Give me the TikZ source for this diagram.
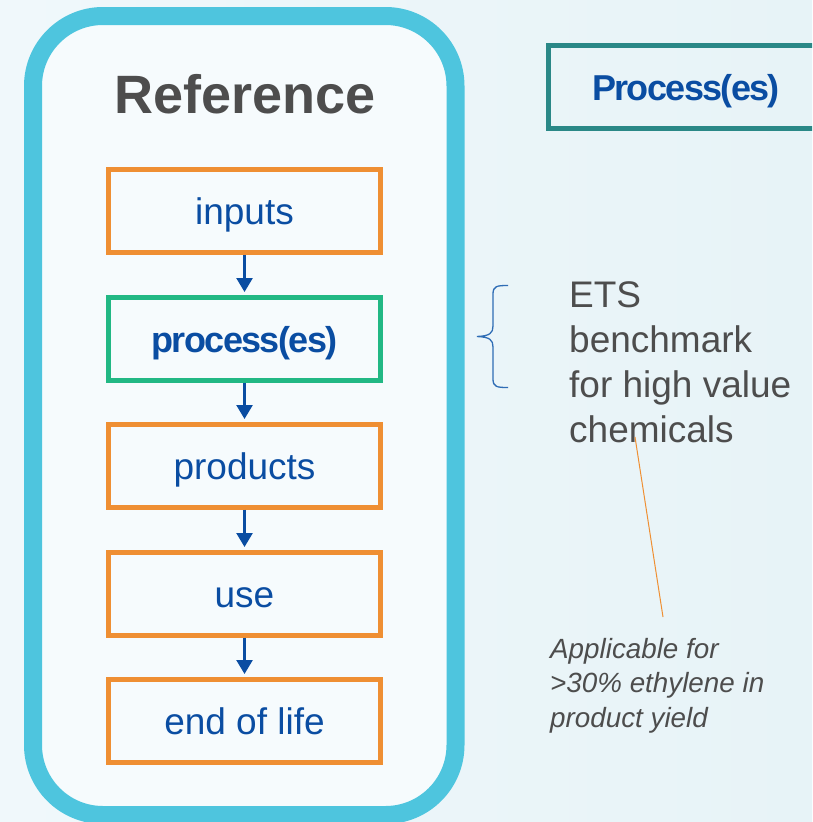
\documentclass[tikz,border=0pt]{standalone}
\usepackage{fontspec}
\setmainfont{Liberation Sans}
\usetikzlibrary{arrows.meta}
\definecolor{bgl}{HTML}{F0F8FB}
\definecolor{bgr}{HTML}{E7F3F7}
\definecolor{innerc}{HTML}{F6FBFD}
\definecolor{framec}{HTML}{4EC5DE}
\definecolor{orangec}{HTML}{EF8F33}
\definecolor{greenc}{HTML}{22B884}
\definecolor{tealc}{HTML}{2A8887}
\definecolor{bluec}{HTML}{0A4DA2}
\definecolor{grayc}{HTML}{4D4D4D}
\definecolor{bracec}{HTML}{2F6DB5}
\begin{document}
\begin{tikzpicture}[x=1pt,y=-1pt,
  stepbox/.style={draw=orangec, line width=5pt, minimum width=272pt, minimum height=83pt,
    inner sep=0pt, text=bluec, font=\fontsize{37}{40}\selectfont, text height=27pt, text depth=0pt},
  flow/.style={draw=bluec, line width=2.5pt, shorten >=2.5pt, -{Triangle[length=14pt,width=16pt]}},
  boldlbl/.style={font=\fontsize{36}{40}\selectfont\bfseries\addfontfeatures{LetterSpace=-4.5}}]
\useasboundingbox (0,0) rectangle (812,822);
\clip (0,0) rectangle (812,822);
\shade[left color=bgl, right color=bgr] (0,0) rectangle (812,822);
\draw[line width=18pt, draw=framec, fill=innerc, rounded corners=70pt] (33,16) rectangle (455.5,815);

\node[anchor=base, text=grayc, font=\fontsize{54}{60}\selectfont\bfseries] (ref) at (245.5,113) {Reference};

\node[stepbox] (inputs) at (244.5,211) {inputs};
\node[stepbox, draw=greenc, boldlbl, text height=27pt, text depth=0pt] (proc) at (244.5,338.5) {process(es)};
\node[stepbox] (products) at (244.5,465.5) {products};
\node[stepbox] (use) at (244.5,593.5) {use};
\node[stepbox] (eol) at (244.5,720.5) {end of life};

\draw[flow] (inputs.south) -- (proc.north);
\draw[flow] (proc.south) -- (products.north);
\draw[flow] (products.south) -- (use.north);
\draw[flow] (use.south) -- (eol.north);

\node[draw=tealc, line width=5pt, minimum width=275pt, minimum height=83pt, inner sep=0pt,
  text=bluec, boldlbl, text height=27pt, text depth=0pt] (procR) at (686,87) {Process(es)};

% brace
\draw[bracec, line width=1.3pt] (508,285.5) .. controls (497,285.5) and (493,286) .. (493,294)
  -- (493,326) .. controls (493,333) and (490,336) .. (477,336.5)
  .. controls (490,337) and (493,340) .. (493,347) -- (493,379)
  .. controls (493,387) and (497,387.5) .. (508,387.5);

\node[anchor=north west, inner sep=0pt, align=left, text=grayc, font=\fontsize{37}{45}\selectfont] (ets) at (569,281.5)
  {ETS\\benchmark\\for high value\\chemicals};

\node[anchor=north west, inner sep=0pt, align=left, text=grayc, font=\fontsize{27.8}{34.5}\selectfont\itshape] (appl) at (550,638)
  {Applicable for\\>30\% ethylene in\\product yield};

\coordinate (la) at (635,437);
\coordinate (lb) at (663,617);
\draw[orangec, line width=1pt] (la) -- (lb);
\end{tikzpicture}
\end{document}
